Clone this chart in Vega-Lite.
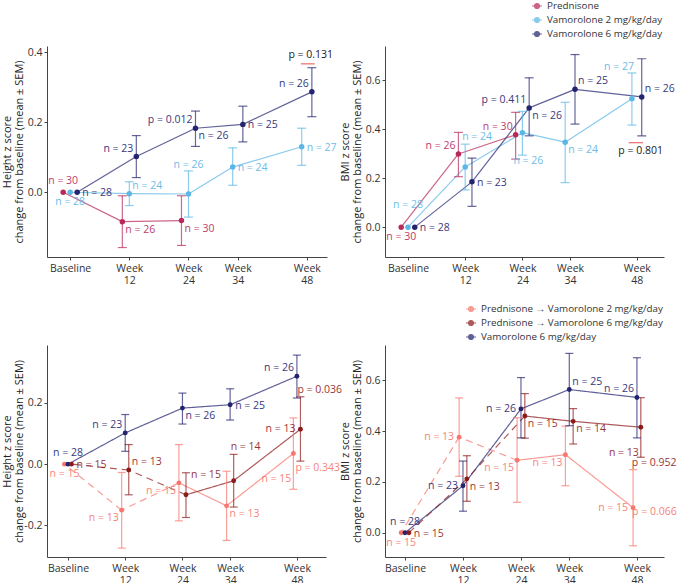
{
  "$schema": "https://vega.github.io/schema/vega-lite/v6.json",
  "padding": {"left": 0, "top": 0, "right": 0, "bottom": 0},
  "bounds": "flush",
  "columns": 2,
  "spacing": {"row": 88, "column": 58},
  "resolve": {"scale": {"color": "independent", "x": "independent", "y": "independent", "strokeDash": "independent"}, "legend": {"color": "independent"}},
  "config": {
    "font": "Open Sans",
    "view": {"stroke": null},
    "axis": {"grid": false, "domainColor": "#444", "tickColor": "#444", "labelColor": "#333", "labelFont": "Open Sans", "labelFontSize": 10.5, "titleFont": "Open Sans", "titleFontSize": 11, "titleFontWeight": "normal", "titleColor": "#222", "tickSize": 3, "labelPadding": 2},
    "axisX": {"title": null, "labelExpr": "datum.value == 0 ? 'Baseline' : ['Week', '' + datum.value]", "labelLineHeight": 12, "labelPadding": 3, "labelOverlap": false, "labelFlush": false, "labelAngle": 0},
    "axisY": {"titleX": -35, "titleLineHeight": 12, "labelExpr": "replace(format(datum.value, '.1f'), '\u2212', '-')", "labelOverlap": false, "labelFlush": false},
    "text": {"font": "Open Sans", "fontSize": 10.5}
  },
  "datasets": {
    "main": [
      {"panel": "HT", "group": "Prednisone", "week": 0, "y": 0, "lo": null, "hi": null, "n": 30, "pos": "u"},
      {"panel": "HT", "group": "Prednisone", "week": 12, "y": -0.084, "lo": -0.158, "hi": -0.010, "n": 26, "pos": "dr"},
      {"panel": "HT", "group": "Prednisone", "week": 24, "y": -0.081, "lo": -0.152, "hi": -0.010, "n": 30, "pos": "dr"},
      {"panel": "HT", "group": "Vamorolone 2 mg/kg/day", "week": 0, "y": 0, "lo": null, "hi": null, "n": 28, "pos": "d"},
      {"panel": "HT", "group": "Vamorolone 2 mg/kg/day", "week": 12, "y": -0.004, "lo": -0.038, "hi": 0.030, "n": 24, "pos": "ur"},
      {"panel": "HT", "group": "Vamorolone 2 mg/kg/day", "week": 24, "y": -0.005, "lo": -0.071, "hi": 0.061, "n": 26, "pos": "top"},
      {"panel": "HT", "group": "Vamorolone 2 mg/kg/day", "week": 34, "y": 0.072, "lo": 0.020, "hi": 0.127, "n": 24, "pos": "r"},
      {"panel": "HT", "group": "Vamorolone 2 mg/kg/day", "week": 48, "y": 0.130, "lo": 0.077, "hi": 0.183, "n": 27, "pos": "r"},
      {"panel": "HT", "group": "Vamorolone 6 mg/kg/day", "week": 0, "y": 0, "lo": null, "hi": null, "n": 28, "pos": "r"},
      {"panel": "HT", "group": "Vamorolone 6 mg/kg/day", "week": 12, "y": 0.102, "lo": 0.042, "hi": 0.162, "n": 23, "pos": "ul"},
      {"panel": "HT", "group": "Vamorolone 6 mg/kg/day", "week": 24, "y": 0.183, "lo": 0.131, "hi": 0.232, "n": 26, "pos": "dr", "p": "0.012", "ppos": "ul"},
      {"panel": "HT", "group": "Vamorolone 6 mg/kg/day", "week": 34, "y": 0.194, "lo": 0.144, "hi": 0.246, "n": 25, "pos": "r"},
      {"panel": "HT", "group": "Vamorolone 6 mg/kg/day", "week": 48, "y": 0.287, "lo": 0.216, "hi": 0.356, "n": 26, "pos": "ul"},

      {"panel": "BT", "group": "Prednisone", "week": 0, "y": 0, "lo": null, "hi": null, "n": 30, "pos": "d"},
      {"panel": "BT", "group": "Prednisone", "week": 12, "y": 0.299, "lo": 0.206, "hi": 0.387, "n": 26, "pos": "ul"},
      {"panel": "BT", "group": "Prednisone", "week": 24, "y": 0.377, "lo": 0.278, "hi": 0.469, "n": 30, "pos": "ul"},
      {"panel": "BT", "group": "Vamorolone 2 mg/kg/day", "week": 0, "y": 0, "lo": null, "hi": null, "n": 28, "pos": "uu"},
      {"panel": "BT", "group": "Vamorolone 2 mg/kg/day", "week": 12, "y": 0.246, "lo": 0.152, "hi": 0.339, "n": 24, "pos": "topr"},
      {"panel": "BT", "group": "Vamorolone 2 mg/kg/day", "week": 24, "y": 0.386, "lo": 0.294, "hi": 0.473, "n": 26, "pos": "botr"},
      {"panel": "BT", "group": "Vamorolone 2 mg/kg/day", "week": 34, "y": 0.347, "lo": 0.182, "hi": 0.510, "n": 24, "pos": "dr"},
      {"panel": "BT", "group": "Vamorolone 2 mg/kg/day", "week": 48, "y": 0.525, "lo": 0.417, "hi": 0.630, "n": 27, "pos": "topl"},
      {"panel": "BT", "group": "Vamorolone 6 mg/kg/day", "week": 0, "y": 0, "lo": null, "hi": null, "n": 28, "pos": "r"},
      {"panel": "BT", "group": "Vamorolone 6 mg/kg/day", "week": 12, "y": 0.185, "lo": 0.085, "hi": 0.282, "n": 23, "pos": "r"},
      {"panel": "BT", "group": "Vamorolone 6 mg/kg/day", "week": 24, "y": 0.487, "lo": 0.373, "hi": 0.610, "n": 26, "pos": "dr", "p": "0.411", "ppos": "ul"},
      {"panel": "BT", "group": "Vamorolone 6 mg/kg/day", "week": 34, "y": 0.563, "lo": 0.421, "hi": 0.705, "n": 25, "pos": "ur"},
      {"panel": "BT", "group": "Vamorolone 6 mg/kg/day", "week": 48, "y": 0.532, "lo": 0.373, "hi": 0.688, "n": 26, "pos": "ur"},

      {"panel": "HB", "group": "Prednisone → Vamorolone 2 mg/kg/day", "week": 0, "y": 0, "lo": null, "hi": null, "n": 15, "pos": "d"},
      {"panel": "HB", "group": "Prednisone → Vamorolone 2 mg/kg/day", "week": 12, "y": -0.150, "lo": -0.274, "hi": -0.027, "n": 13, "pos": "dl"},
      {"panel": "HB", "group": "Prednisone → Vamorolone 2 mg/kg/day", "week": 24, "y": -0.061, "lo": -0.185, "hi": 0.064, "n": 15, "pos": "dl"},
      {"panel": "HB", "group": "Prednisone → Vamorolone 2 mg/kg/day", "week": 34, "y": -0.136, "lo": -0.249, "hi": -0.023, "n": 13, "pos": "dr"},
      {"panel": "HB", "group": "Prednisone → Vamorolone 2 mg/kg/day", "week": 48, "y": 0.035, "lo": -0.082, "hi": 0.151, "n": 15, "pos": "ddl", "p": "0.343", "ppos": "ddr"},
      {"panel": "HB", "group": "Vamorolone 6 mg/kg/day", "week": 0, "y": 0, "lo": null, "hi": null, "n": 28, "pos": "u"},
      {"panel": "HB", "group": "Vamorolone 6 mg/kg/day", "week": 12, "y": 0.102, "lo": 0.042, "hi": 0.162, "n": 23, "pos": "ul"},
      {"panel": "HB", "group": "Vamorolone 6 mg/kg/day", "week": 24, "y": 0.183, "lo": 0.131, "hi": 0.232, "n": 26, "pos": "dr"},
      {"panel": "HB", "group": "Vamorolone 6 mg/kg/day", "week": 34, "y": 0.194, "lo": 0.144, "hi": 0.246, "n": 25, "pos": "r"},
      {"panel": "HB", "group": "Vamorolone 6 mg/kg/day", "week": 48, "y": 0.287, "lo": 0.216, "hi": 0.356, "n": 26, "pos": "ul"},
      {"panel": "HB", "group": "Prednisone → Vamorolone 6 mg/kg/day", "week": 0, "y": 0, "lo": null, "hi": null, "n": 15, "pos": "r"},
      {"panel": "HB", "group": "Prednisone → Vamorolone 6 mg/kg/day", "week": 12, "y": -0.019, "lo": -0.100, "hi": 0.064, "n": 13, "pos": "ur"},
      {"panel": "HB", "group": "Prednisone → Vamorolone 6 mg/kg/day", "week": 24, "y": -0.100, "lo": -0.174, "hi": -0.028, "n": 15, "pos": "uur"},
      {"panel": "HB", "group": "Prednisone → Vamorolone 6 mg/kg/day", "week": 34, "y": -0.054, "lo": -0.140, "hi": 0.032, "n": 14, "pos": "topr"},
      {"panel": "HB", "group": "Prednisone → Vamorolone 6 mg/kg/day", "week": 48, "y": 0.114, "lo": 0.010, "hi": 0.220, "n": 13, "pos": "l", "p": "0.036", "ppos": "topr"},

      {"panel": "BB", "group": "Prednisone → Vamorolone 2 mg/kg/day", "week": 0, "y": 0, "lo": null, "hi": null, "n": 15, "pos": "d"},
      {"panel": "BB", "group": "Prednisone → Vamorolone 2 mg/kg/day", "week": 12, "y": 0.376, "lo": 0.222, "hi": 0.530, "n": 13, "pos": "l"},
      {"panel": "BB", "group": "Prednisone → Vamorolone 2 mg/kg/day", "week": 24, "y": 0.285, "lo": 0.120, "hi": 0.452, "n": 15, "pos": "dl"},
      {"panel": "BB", "group": "Prednisone → Vamorolone 2 mg/kg/day", "week": 34, "y": 0.307, "lo": 0.185, "hi": 0.419, "n": 13, "pos": "dl"},
      {"panel": "BB", "group": "Prednisone → Vamorolone 2 mg/kg/day", "week": 48, "y": 0.099, "lo": -0.051, "hi": 0.248, "n": 15, "pos": "l", "p": "0.066", "ppos": "rr"},
      {"panel": "BB", "group": "Vamorolone 6 mg/kg/day", "week": 0, "y": 0, "lo": null, "hi": null, "n": 28, "pos": "u"},
      {"panel": "BB", "group": "Vamorolone 6 mg/kg/day", "week": 12, "y": 0.185, "lo": 0.085, "hi": 0.282, "n": 23, "pos": "l"},
      {"panel": "BB", "group": "Vamorolone 6 mg/kg/day", "week": 24, "y": 0.487, "lo": 0.373, "hi": 0.610, "n": 26, "pos": "l"},
      {"panel": "BB", "group": "Vamorolone 6 mg/kg/day", "week": 34, "y": 0.563, "lo": 0.421, "hi": 0.705, "n": 25, "pos": "ur"},
      {"panel": "BB", "group": "Vamorolone 6 mg/kg/day", "week": 48, "y": 0.532, "lo": 0.373, "hi": 0.688, "n": 26, "pos": "ul"},
      {"panel": "BB", "group": "Prednisone → Vamorolone 6 mg/kg/day", "week": 0, "y": 0, "lo": null, "hi": null, "n": 15, "pos": "r"},
      {"panel": "BB", "group": "Prednisone → Vamorolone 6 mg/kg/day", "week": 12, "y": 0.212, "lo": 0.124, "hi": 0.303, "n": 13, "pos": "dr"},
      {"panel": "BB", "group": "Prednisone → Vamorolone 6 mg/kg/day", "week": 24, "y": 0.459, "lo": 0.372, "hi": 0.547, "n": 15, "pos": "dr"},
      {"panel": "BB", "group": "Prednisone → Vamorolone 6 mg/kg/day", "week": 34, "y": 0.438, "lo": 0.349, "hi": 0.488, "n": 14, "pos": "dr"},
      {"panel": "BB", "group": "Prednisone → Vamorolone 6 mg/kg/day", "week": 48, "y": 0.415, "lo": 0.297, "hi": 0.531, "n": 13, "pos": "ddl", "p": "0.952", "ppos": "botr"}
    ],
    "ann": [
      {"panel": "HT", "x": 46.8, "x2": 49.6, "ly": 0.367, "tx": 48.8, "ty": 0.392, "text": "p = 0.131"},
      {"panel": "BT", "x": 46.3, "x2": 49.3, "ly": 0.345, "tx": 48.8, "ty": 0.312, "text": "p = 0.801"}
    ]
  },
  "concat": [
    {
      "width": 280, "height": 211,
      "data": {"name": "main"},
      "transform": [
        {"filter": "datum.panel == 'HT'"},
        {"calculate": "datum.week + (datum.week <= 24 ? (datum.group == 'Prednisone' ? -1.42 : (datum.group == 'Vamorolone 2 mg/kg/day' ? 0 : 1.42)) : (datum.group == 'Vamorolone 2 mg/kg/day' ? -1.03 : 1.03))", "as": "xd"},
        {"calculate": "'n = ' + datum.n", "as": "nl"},
        {"calculate": "indexof(['top','topr','topl'], datum.pos) >= 0 ? datum.hi : (indexof(['bot','botr'], datum.pos) >= 0 ? datum.lo : datum.y)", "as": "ly"},
        {"window": [{"op": "lag", "field": "xd", "as": "xp"}, {"op": "lag", "field": "y", "as": "yp"}], "groupby": ["group"], "sort": [{"field": "week", "order": "ascending"}]}
      ],
      "encoding": {
        "x": {"field": "xd", "type": "quantitative", "scale": {"domain": [-4.7, 52.1], "nice": false, "zero": false}, "axis": {"values": [0, 12, 24, 34, 48]}},
        "y": {"field": "y", "type": "quantitative", "scale": {"domain": [-0.185, 0.418], "nice": false, "zero": false}, "axis": {"values": [0, 0.2, 0.4], "title": ["Height z score", "change from baseline (mean ± SEM)"]}},
        "color": {"field": "group", "type": "nominal", "scale": {"domain": ["Prednisone", "Vamorolone 2 mg/kg/day", "Vamorolone 6 mg/kg/day"], "range": ["#B8295B", "#5CB6E6", "#232470"]}, "legend": null}
      },
      "layer": [
        {"transform": [{"filter": "datum.xp != null"}], "mark": {"type": "rule", "strokeWidth": 1.2, "opacity": 0.72}, "encoding": {"x2": {"field": "xp"}, "y2": {"field": "yp"}}},
        {"transform": [{"filter": "datum.hi != null"}], "mark": {"type": "rule", "strokeWidth": 1.2, "opacity": 0.7}, "encoding": {"y": {"field": "lo", "type": "quantitative"}, "y2": {"field": "hi"}}},
        {"transform": [{"filter": "datum.hi != null"}], "mark": {"type": "tick", "orient": "horizontal", "size": 9, "thickness": 1.2, "opacity": 0.7}, "encoding": {"y": {"field": "hi", "type": "quantitative"}}},
        {"transform": [{"filter": "datum.hi != null"}], "mark": {"type": "tick", "orient": "horizontal", "size": 9, "thickness": 1.2, "opacity": 0.7}, "encoding": {"y": {"field": "lo", "type": "quantitative"}}},
        {"mark": {"type": "circle", "size": 30, "opacity": 1}},
        {"mark": {"type": "text", "fontSize": 10.5, "baseline": "middle", "opacity": 0.9,
          "align": {"expr": "indexof(['r','rr','ur','dr','topr','botr','ddr','uur'], datum.pos) >= 0 ? 'left' : (indexof(['l','ul','dl','topl','ddl'], datum.pos) >= 0 ? 'right' : 'center')"},
          "dx": {"expr": "({'r':5,'rr':-1,'l':-5,'ur':3,'ul':-3,'dr':3,'dl':-3,'topr':-3,'topl':2,'botr':-9,'ddr':2,'ddl':-2,'uur':5})[datum.pos] || 0"},
          "dy": {"expr": "({'r':1,'rr':4,'ur':-8,'ul':-8,'dr':8,'dl':8,'u':-11,'d':10,'uu':-22,'top':-6,'bot':6,'topr':-7,'topl':-6,'botr':6,'ddr':15,'ddl':26,'uur':-20})[datum.pos] || 0"}},
          "encoding": {"y": {"field": "ly", "type": "quantitative"}, "text": {"field": "nl"}}},
        {"transform": [{"filter": "datum.p != null"}, {"calculate": "'p = ' + datum.p", "as": "pl"}, {"calculate": "indexof(['top','topr','topl'], datum.ppos) >= 0 ? datum.hi : (indexof(['bot','botr'], datum.ppos) >= 0 ? datum.lo : datum.y)", "as": "py"}],
          "mark": {"type": "text", "fontSize": 10.5, "baseline": "middle", "opacity": 0.9,
          "align": {"expr": "indexof(['r','rr','ur','dr','topr','botr','ddr','uur'], datum.ppos) >= 0 ? 'left' : (indexof(['l','ul','dl','topl','ddl'], datum.ppos) >= 0 ? 'right' : 'center')"},
          "dx": {"expr": "({'r':5,'rr':-1,'l':-5,'ur':3,'ul':-3,'dr':3,'dl':-3,'topr':-3,'topl':2,'botr':-9,'ddr':2,'ddl':-2,'uur':5})[datum.ppos] || 0"},
          "dy": {"expr": "({'r':1,'rr':4,'ur':-8,'ul':-8,'dr':8,'dl':8,'u':-11,'d':10,'uu':-22,'top':-6,'bot':6,'topr':-7,'topl':-6,'botr':6,'ddr':15,'ddl':26,'uur':-20})[datum.ppos] || 0"}},
          "encoding": {"y": {"field": "py", "type": "quantitative"}, "text": {"field": "pl"}}},
        {"data": {"name": "ann"}, "transform": [{"filter": "datum.panel == 'HT'"}], "mark": {"type": "rule", "strokeWidth": 1.2}, "encoding": {"x": {"field": "x", "type": "quantitative"}, "x2": {"field": "x2"}, "y": {"field": "ly", "type": "quantitative"}, "color": {"value": "#EE6A6A"}}},
        {"data": {"name": "ann"}, "transform": [{"filter": "datum.panel == 'HT'"}], "mark": {"type": "text", "fontSize": 10.5, "baseline": "middle"}, "encoding": {"x": {"field": "tx", "type": "quantitative"}, "y": {"field": "ty", "type": "quantitative"}, "text": {"field": "text"}, "color": {"value": "#222"}}}
      ]
    },
    {
      "width": 279, "height": 211,
      "data": {"name": "main"},
      "transform": [
        {"filter": "datum.panel == 'BT'"},
        {"calculate": "datum.week + (datum.week <= 24 ? (datum.group == 'Prednisone' ? -1.42 : (datum.group == 'Vamorolone 2 mg/kg/day' ? 0 : 1.42)) : (datum.group == 'Vamorolone 2 mg/kg/day' ? -1.03 : 1.03))", "as": "xd"},
        {"calculate": "'n = ' + datum.n", "as": "nl"},
        {"calculate": "indexof(['top','topr','topl'], datum.pos) >= 0 ? datum.hi : (indexof(['bot','botr'], datum.pos) >= 0 ? datum.lo : datum.y)", "as": "ly"},
        {"window": [{"op": "lag", "field": "xd", "as": "xp"}, {"op": "lag", "field": "y", "as": "yp"}], "groupby": ["group"], "sort": [{"field": "week", "order": "ascending"}]}
      ],
      "encoding": {
        "x": {"field": "xd", "type": "quantitative", "scale": {"domain": [-4.82, 53.7], "nice": false, "zero": false}, "axis": {"values": [0, 12, 24, 34, 48]}},
        "y": {"field": "y", "type": "quantitative", "scale": {"domain": [-0.122, 0.74], "nice": false, "zero": false}, "axis": {"values": [0, 0.2, 0.4, 0.6], "title": ["BMI z score", "change from baseline (mean ± SEM)"]}},
        "color": {"field": "group", "type": "nominal", "scale": {"domain": ["Prednisone", "Vamorolone 2 mg/kg/day", "Vamorolone 6 mg/kg/day"], "range": ["#B8295B", "#5CB6E6", "#232470"]},
          "legend": {"orient": "none", "legendX": 146, "legendY": -46, "title": null, "symbolType": "M-1,0L1,0M-0.5,0A0.5,0.5,0,1,1,0.5,0A0.5,0.5,0,1,1,-0.5,0Z", "symbolSize": 100, "symbolStrokeWidth": 1.2, "labelFontSize": 9.8, "labelFont": "Open Sans", "labelColor": "#333", "labelLimit": 400, "rowPadding": 3, "labelOffset": 4}}
      },
      "layer": [
        {"transform": [{"filter": "datum.xp != null"}], "mark": {"type": "rule", "strokeWidth": 1.2, "opacity": 0.72}, "encoding": {"x2": {"field": "xp"}, "y2": {"field": "yp"}}},
        {"transform": [{"filter": "datum.hi != null"}], "mark": {"type": "rule", "strokeWidth": 1.2, "opacity": 0.7}, "encoding": {"y": {"field": "lo", "type": "quantitative"}, "y2": {"field": "hi"}}},
        {"transform": [{"filter": "datum.hi != null"}], "mark": {"type": "tick", "orient": "horizontal", "size": 9, "thickness": 1.2, "opacity": 0.7}, "encoding": {"y": {"field": "hi", "type": "quantitative"}}},
        {"transform": [{"filter": "datum.hi != null"}], "mark": {"type": "tick", "orient": "horizontal", "size": 9, "thickness": 1.2, "opacity": 0.7}, "encoding": {"y": {"field": "lo", "type": "quantitative"}}},
        {"mark": {"type": "circle", "size": 30, "opacity": 1}},
        {"mark": {"type": "text", "fontSize": 10.5, "baseline": "middle", "opacity": 0.9,
          "align": {"expr": "indexof(['r','rr','ur','dr','topr','botr','ddr','uur'], datum.pos) >= 0 ? 'left' : (indexof(['l','ul','dl','topl','ddl'], datum.pos) >= 0 ? 'right' : 'center')"},
          "dx": {"expr": "({'r':5,'rr':-1,'l':-5,'ur':3,'ul':-3,'dr':3,'dl':-3,'topr':-3,'topl':2,'botr':-9,'ddr':2,'ddl':-2,'uur':5})[datum.pos] || 0"},
          "dy": {"expr": "({'r':1,'rr':4,'ur':-8,'ul':-8,'dr':8,'dl':8,'u':-11,'d':10,'uu':-22,'top':-6,'bot':6,'topr':-7,'topl':-6,'botr':6,'ddr':15,'ddl':26,'uur':-20})[datum.pos] || 0"}},
          "encoding": {"y": {"field": "ly", "type": "quantitative"}, "text": {"field": "nl"}}},
        {"transform": [{"filter": "datum.p != null"}, {"calculate": "'p = ' + datum.p", "as": "pl"}, {"calculate": "indexof(['top','topr','topl'], datum.ppos) >= 0 ? datum.hi : (indexof(['bot','botr'], datum.ppos) >= 0 ? datum.lo : datum.y)", "as": "py"}],
          "mark": {"type": "text", "fontSize": 10.5, "baseline": "middle", "opacity": 0.9,
          "align": {"expr": "indexof(['r','rr','ur','dr','topr','botr','ddr','uur'], datum.ppos) >= 0 ? 'left' : (indexof(['l','ul','dl','topl','ddl'], datum.ppos) >= 0 ? 'right' : 'center')"},
          "dx": {"expr": "({'r':5,'rr':-1,'l':-5,'ur':3,'ul':-3,'dr':3,'dl':-3,'topr':-3,'topl':2,'botr':-9,'ddr':2,'ddl':-2,'uur':5})[datum.ppos] || 0"},
          "dy": {"expr": "({'r':1,'rr':4,'ur':-8,'ul':-8,'dr':8,'dl':8,'u':-11,'d':10,'uu':-22,'top':-6,'bot':6,'topr':-7,'topl':-6,'botr':6,'ddr':15,'ddl':26,'uur':-20})[datum.ppos] || 0"}},
          "encoding": {"y": {"field": "py", "type": "quantitative"}, "text": {"field": "pl"}}},
        {"data": {"name": "ann"}, "transform": [{"filter": "datum.panel == 'BT'"}], "mark": {"type": "rule", "strokeWidth": 1.2}, "encoding": {"x": {"field": "x", "type": "quantitative"}, "x2": {"field": "x2"}, "y": {"field": "ly", "type": "quantitative"}, "color": {"value": "#EE6A6A"}}},
        {"data": {"name": "ann"}, "transform": [{"filter": "datum.panel == 'BT'"}], "mark": {"type": "text", "fontSize": 10.5, "baseline": "middle"}, "encoding": {"x": {"field": "tx", "type": "quantitative"}, "y": {"field": "ty", "type": "quantitative"}, "text": {"field": "text"}, "color": {"value": "#222"}}}
      ]
    },
    {
      "width": 279, "height": 212,
      "data": {"name": "main"},
      "transform": [
        {"filter": "datum.panel == 'HB'"},
        {"calculate": "datum.week + (datum.group == 'Vamorolone 6 mg/kg/day' ? 0 : (indexof(datum.group, '2 mg') >= 0 ? -0.74 : 0.74))", "as": "xd"},
        {"calculate": "'n = ' + datum.n", "as": "nl"},
        {"calculate": "indexof(datum.group, 'Prednisone') == 0 && datum.week <= 24 ? 'dashed' : 'solid'", "as": "dash"},
        {"calculate": "indexof(['top','topr','topl'], datum.pos) >= 0 ? datum.hi : (indexof(['bot','botr'], datum.pos) >= 0 ? datum.lo : datum.y)", "as": "ly"},
        {"window": [{"op": "lag", "field": "xd", "as": "xp"}, {"op": "lag", "field": "y", "as": "yp"}], "groupby": ["group"], "sort": [{"field": "week", "order": "ascending"}]}
      ],
      "encoding": {
        "x": {"field": "xd", "type": "quantitative", "scale": {"domain": [-4.4, 54.1], "nice": false, "zero": false}, "axis": {"values": [0, 12, 24, 34, 48]}},
        "y": {"field": "y", "type": "quantitative", "scale": {"domain": [-0.303, 0.389], "nice": false, "zero": false}, "axis": {"values": [-0.2, 0, 0.2], "title": ["Height z score", "change from baseline (mean ± SEM)"]}},
        "color": {"field": "group", "type": "nominal", "scale": {"domain": ["Prednisone → Vamorolone 2 mg/kg/day", "Prednisone → Vamorolone 6 mg/kg/day", "Vamorolone 6 mg/kg/day"], "range": ["#F8766D", "#8E1B1B", "#232470"]}, "legend": null}
      },
      "layer": [
        {"transform": [{"filter": "datum.xp != null"}], "mark": {"type": "rule", "strokeWidth": 1.2, "opacity": 0.72}, "encoding": {"x2": {"field": "xp"}, "y2": {"field": "yp"}, "strokeDash": {"field": "dash", "type": "nominal", "scale": {"domain": ["solid", "dashed"], "range": [[1, 0], [7, 5]]}, "legend": null}}},
        {"transform": [{"filter": "datum.hi != null"}], "mark": {"type": "rule", "strokeWidth": 1.2, "opacity": 0.7}, "encoding": {"y": {"field": "lo", "type": "quantitative"}, "y2": {"field": "hi"}}},
        {"transform": [{"filter": "datum.hi != null"}], "mark": {"type": "tick", "orient": "horizontal", "size": 8, "thickness": 1.2, "opacity": 0.7}, "encoding": {"y": {"field": "hi", "type": "quantitative"}}},
        {"transform": [{"filter": "datum.hi != null"}], "mark": {"type": "tick", "orient": "horizontal", "size": 8, "thickness": 1.2, "opacity": 0.7}, "encoding": {"y": {"field": "lo", "type": "quantitative"}}},
        {"mark": {"type": "circle", "size": 24, "opacity": 1}},
        {"mark": {"type": "text", "fontSize": 10.5, "baseline": "middle", "opacity": 0.9,
          "align": {"expr": "indexof(['r','rr','ur','dr','topr','botr','ddr','uur'], datum.pos) >= 0 ? 'left' : (indexof(['l','ul','dl','topl','ddl'], datum.pos) >= 0 ? 'right' : 'center')"},
          "dx": {"expr": "({'r':5,'rr':-1,'l':-5,'ur':3,'ul':-3,'dr':3,'dl':-3,'topr':-3,'topl':2,'botr':-9,'ddr':2,'ddl':-2,'uur':5})[datum.pos] || 0"},
          "dy": {"expr": "({'r':1,'rr':4,'ur':-8,'ul':-8,'dr':8,'dl':8,'u':-11,'d':10,'uu':-22,'top':-6,'bot':6,'topr':-7,'topl':-6,'botr':6,'ddr':15,'ddl':26,'uur':-20})[datum.pos] || 0"}},
          "encoding": {"y": {"field": "ly", "type": "quantitative"}, "text": {"field": "nl"}}},
        {"transform": [{"filter": "datum.p != null"}, {"calculate": "'p = ' + datum.p", "as": "pl"}, {"calculate": "indexof(['top','topr','topl'], datum.ppos) >= 0 ? datum.hi : (indexof(['bot','botr'], datum.ppos) >= 0 ? datum.lo : datum.y)", "as": "py"}],
          "mark": {"type": "text", "fontSize": 10.5, "baseline": "middle", "opacity": 0.9,
          "align": {"expr": "indexof(['r','rr','ur','dr','topr','botr','ddr','uur'], datum.ppos) >= 0 ? 'left' : (indexof(['l','ul','dl','topl','ddl'], datum.ppos) >= 0 ? 'right' : 'center')"},
          "dx": {"expr": "({'r':5,'rr':-1,'l':-5,'ur':3,'ul':-3,'dr':3,'dl':-3,'topr':-3,'topl':2,'botr':-9,'ddr':2,'ddl':-2,'uur':5})[datum.ppos] || 0"},
          "dy": {"expr": "({'r':1,'rr':4,'ur':-8,'ul':-8,'dr':8,'dl':8,'u':-11,'d':10,'uu':-22,'top':-6,'bot':6,'topr':-7,'topl':-6,'botr':6,'ddr':15,'ddl':26,'uur':-20})[datum.ppos] || 0"}},
          "encoding": {"y": {"field": "py", "type": "quantitative"}, "text": {"field": "pl"}}}
      ]
    },
    {
      "width": 279, "height": 212,
      "data": {"name": "main"},
      "transform": [
        {"filter": "datum.panel == 'BB'"},
        {"calculate": "datum.week + (datum.group == 'Vamorolone 6 mg/kg/day' ? 0 : (indexof(datum.group, '2 mg') >= 0 ? -0.8 : 0.8))", "as": "xd"},
        {"calculate": "'n = ' + datum.n", "as": "nl"},
        {"calculate": "indexof(datum.group, 'Prednisone') == 0 && datum.week <= 24 ? 'dashed' : 'solid'", "as": "dash"},
        {"calculate": "indexof(['top','topr','topl'], datum.pos) >= 0 ? datum.hi : (indexof(['bot','botr'], datum.pos) >= 0 ? datum.lo : datum.y)", "as": "ly"},
        {"window": [{"op": "lag", "field": "xd", "as": "xp"}, {"op": "lag", "field": "y", "as": "yp"}], "groupby": ["group"], "sort": [{"field": "week", "order": "ascending"}]}
      ],
      "encoding": {
        "x": {"field": "xd", "type": "quantitative", "scale": {"domain": [-4.14, 53.6], "nice": false, "zero": false}, "axis": {"values": [0, 12, 24, 34, 48]}},
        "y": {"field": "y", "type": "quantitative", "scale": {"domain": [-0.095, 0.738], "nice": false, "zero": false}, "axis": {"values": [0, 0.2, 0.4, 0.6], "title": ["BMI z score", "change from baseline (mean ± SEM)"]}},
        "color": {"field": "group", "type": "nominal", "scale": {"domain": ["Prednisone → Vamorolone 2 mg/kg/day", "Prednisone → Vamorolone 6 mg/kg/day", "Vamorolone 6 mg/kg/day"], "range": ["#F8766D", "#8E1B1B", "#232470"]},
          "legend": {"orient": "none", "legendX": 80, "legendY": -42, "title": null, "symbolType": "M-1,0L1,0M-0.5,0A0.5,0.5,0,1,1,0.5,0A0.5,0.5,0,1,1,-0.5,0Z", "symbolSize": 100, "symbolStrokeWidth": 1.2, "labelFontSize": 9.8, "labelFont": "Open Sans", "labelColor": "#333", "labelLimit": 400, "rowPadding": 3, "labelOffset": 4}}
      },
      "layer": [
        {"transform": [{"filter": "datum.xp != null"}], "mark": {"type": "rule", "strokeWidth": 1.2, "opacity": 0.72}, "encoding": {"x2": {"field": "xp"}, "y2": {"field": "yp"}, "strokeDash": {"field": "dash", "type": "nominal", "scale": {"domain": ["solid", "dashed"], "range": [[1, 0], [7, 5]]}, "legend": null}}},
        {"transform": [{"filter": "datum.hi != null"}], "mark": {"type": "rule", "strokeWidth": 1.2, "opacity": 0.7}, "encoding": {"y": {"field": "lo", "type": "quantitative"}, "y2": {"field": "hi"}}},
        {"transform": [{"filter": "datum.hi != null"}], "mark": {"type": "tick", "orient": "horizontal", "size": 8, "thickness": 1.2, "opacity": 0.7}, "encoding": {"y": {"field": "hi", "type": "quantitative"}}},
        {"transform": [{"filter": "datum.hi != null"}], "mark": {"type": "tick", "orient": "horizontal", "size": 8, "thickness": 1.2, "opacity": 0.7}, "encoding": {"y": {"field": "lo", "type": "quantitative"}}},
        {"mark": {"type": "circle", "size": 24, "opacity": 1}},
        {"mark": {"type": "text", "fontSize": 10.5, "baseline": "middle", "opacity": 0.9,
          "align": {"expr": "indexof(['r','rr','ur','dr','topr','botr','ddr','uur'], datum.pos) >= 0 ? 'left' : (indexof(['l','ul','dl','topl','ddl'], datum.pos) >= 0 ? 'right' : 'center')"},
          "dx": {"expr": "({'r':5,'rr':-1,'l':-5,'ur':3,'ul':-3,'dr':3,'dl':-3,'topr':-3,'topl':2,'botr':-9,'ddr':2,'ddl':-2,'uur':5})[datum.pos] || 0"},
          "dy": {"expr": "({'r':1,'rr':4,'ur':-8,'ul':-8,'dr':8,'dl':8,'u':-11,'d':10,'uu':-22,'top':-6,'bot':6,'topr':-7,'topl':-6,'botr':6,'ddr':15,'ddl':26,'uur':-20})[datum.pos] || 0"}},
          "encoding": {"y": {"field": "ly", "type": "quantitative"}, "text": {"field": "nl"}}},
        {"transform": [{"filter": "datum.p != null"}, {"calculate": "'p = ' + datum.p", "as": "pl"}, {"calculate": "indexof(['top','topr','topl'], datum.ppos) >= 0 ? datum.hi : (indexof(['bot','botr'], datum.ppos) >= 0 ? datum.lo : datum.y)", "as": "py"}],
          "mark": {"type": "text", "fontSize": 10.5, "baseline": "middle", "opacity": 0.9,
          "align": {"expr": "indexof(['r','rr','ur','dr','topr','botr','ddr','uur'], datum.ppos) >= 0 ? 'left' : (indexof(['l','ul','dl','topl','ddl'], datum.ppos) >= 0 ? 'right' : 'center')"},
          "dx": {"expr": "({'r':5,'rr':-1,'l':-5,'ur':3,'ul':-3,'dr':3,'dl':-3,'topr':-3,'topl':2,'botr':-9,'ddr':2,'ddl':-2,'uur':5})[datum.ppos] || 0"},
          "dy": {"expr": "({'r':1,'rr':4,'ur':-8,'ul':-8,'dr':8,'dl':8,'u':-11,'d':10,'uu':-22,'top':-6,'bot':6,'topr':-7,'topl':-6,'botr':6,'ddr':15,'ddl':26,'uur':-20})[datum.ppos] || 0"}},
          "encoding": {"y": {"field": "py", "type": "quantitative"}, "text": {"field": "pl"}}}
      ]
    }
  ]
}
